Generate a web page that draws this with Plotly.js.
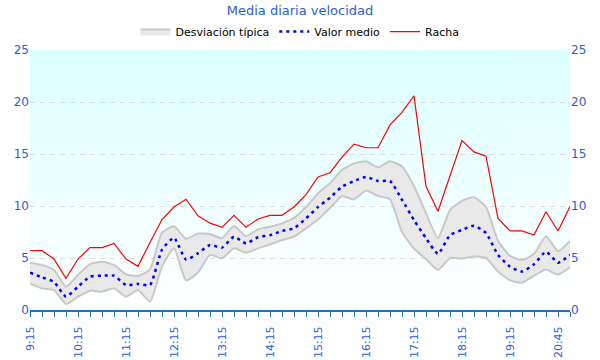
<!DOCTYPE html>
<html>
<head>
<meta charset="utf-8">
<script src="https://cdn.plot.ly/plotly-3.0.1.min.js"></script>
<style>html,body{margin:0;padding:0;background:#fff;}#chart{width:600px;height:360px;}</style>
</head>
<body>
<div id="chart"></div>
<script>
const times = ["9:15","9:30","9:45","10:00","10:15","10:30","10:45","11:00","11:15","11:30","11:45","12:00",
  "12:15","12:30","12:45","13:00","13:15","13:30","13:45","14:00","14:15","14:30","14:45","15:00",
  "15:15","15:30","15:45","16:00","16:15","16:30","16:45","17:00","17:15","17:30","17:45","18:00",
  "18:15","18:30","18:45","19:00","19:15","19:30","20:00","20:30","20:45","21:00"];
const shownLabels = ["9:15","10:15","11:15","12:15","13:15","14:15","15:15","16:15","17:15","18:15","19:15","20:45"];
const racha = [5.7,5.7,4.9,3.05,4.9,6.0,6.0,6.4,4.9,4.2,
  6.5,8.7,9.9,10.65,9.05,8.35,7.95,9.1,7.95,8.75,
  9.1,9.1,9.9,11.1,12.8,13.2,14.7,15.95,15.6,15.6,
  17.8,19.0,20.6,11.9,9.5,12.9,16.3,15.2,14.8,8.8,
  7.6,7.6,7.2,9.45,7.6,9.95];
const media = [3.59,3.14,2.7,1.28,2.24,3.2,3.3,3.3,2.4,2.5,
  2.4,5.8,6.95,4.85,5.45,6.25,6.0,7.05,6.4,7.0,
  7.2,7.6,7.85,8.8,9.9,10.8,11.86,12.4,12.8,12.4,
  12.4,10.6,8.65,6.9,5.4,7.2,7.7,8.1,7.4,5.3,
  4.17,3.7,4.4,5.6,4.55,5.3];
const desvSup = [4.55,4.33,3.85,2.24,3.37,4.42,4.65,4.33,3.43,3.27,
  3.9,7.43,8.05,6.85,7.35,7.3,6.9,8.08,7.1,7.75,
  8.0,8.33,8.85,9.9,11.2,12.2,13.46,14.1,14.3,13.7,
  14.3,13.8,11.9,9.3,6.9,9.6,10.5,10.85,9.9,6.65,
  5.2,4.8,5.4,7.1,5.65,6.65];
const desvInf = [2.56,2.08,1.92,0.58,1.28,1.86,1.76,2.08,1.28,1.92,
  0.8,4.2,5.93,2.85,3.6,5.3,4.97,5.93,5.5,5.93,
  6.3,6.73,7.05,7.85,8.7,9.8,10.96,10.64,11.5,10.96,
  10.65,7.5,5.9,4.9,3.85,5.0,4.95,5.15,5.0,3.7,
  2.85,2.63,3.3,3.9,3.4,4.1];

const xIdx = times.map((t, i) => i);
const tickText = times.map((t) => shownLabels.includes(t) ? t : "");

// vertical gradient for the plot background
const cv = document.createElement('canvas');
cv.width = 4; cv.height = 260;
const ctx = cv.getContext('2d');
const g = ctx.createLinearGradient(0, 0, 0, 260);
g.addColorStop(0, '#dbffff');
g.addColorStop(1, '#ffffff');
ctx.fillStyle = g; ctx.fillRect(0, 0, 4, 260);
const bgURL = cv.toDataURL('image/png');

const blueTxt = '#1f5fd6';
const font = 'DejaVu Sans, Verdana, sans-serif';

const traces = [
  {x: xIdx, y: desvInf, type: 'scatter', mode: 'lines', showlegend: false, hoverinfo: 'skip',
   line: {color: '#c8c8c8', width: 2, shape: 'spline', smoothing: 0.5}},
  {x: xIdx, y: desvSup, type: 'scatter', mode: 'lines', name: 'Desviación típica', fill: 'tonexty',
   fillcolor: '#e9e9e9', line: {color: '#c8c8c8', width: 2, shape: 'spline', smoothing: 0.5}},
  {x: xIdx, y: media, type: 'scatter', mode: 'lines', name: 'Valor medio',
   line: {color: '#0000ff', width: 2.5, dash: '3px,4px', shape: 'spline', smoothing: 0.5}},
  {x: xIdx, y: racha, type: 'scatter', mode: 'lines', name: 'Racha',
   line: {color: '#ff0000', width: 1.2}},
  {x: xIdx, y: racha, yaxis: 'y2', type: 'scatter', mode: 'lines', showlegend: false, hoverinfo: 'skip',
   line: {color: 'rgba(0,0,0,0)', width: 0}}
];

const layout = {
  width: 600, height: 360,
  margin: {l: 30, r: 30, t: 50, b: 50},
  paper_bgcolor: '#ffffff',
  plot_bgcolor: 'rgba(0,0,0,0)',
  font: {family: font, size: 12, color: '#000'},
  title: {text: 'Media diaria velocidad', x: 0.5, xanchor: 'center', y: 0.985, yanchor: 'top',
          font: {family: font, size: 13, color: blueTxt}},
  showlegend: true,
  legend: {orientation: 'h', x: 0.5, xanchor: 'center', y: 1.015, yanchor: 'bottom',
           itemwidth: 30, font: {family: font, size: 11, color: '#000'}, traceorder: 'normal'},
  images: [{source: bgURL, xref: 'paper', yref: 'paper', x: 0, y: 1, sizex: 1, sizey: 1,
            sizing: 'stretch', layer: 'below', xanchor: 'left', yanchor: 'top'}],
  xaxis: {range: [0, 45], tickmode: 'array', tickvals: xIdx, ticktext: tickText,
          tickangle: -90, ticks: 'outside', ticklen: 5, tickcolor: '#1f6fd0', tickwidth: 1,
          ticklabelstandoff: 5,
          showline: true, linecolor: '#1f6fd0', linewidth: 2, showgrid: false, zeroline: false,
          tickfont: {family: font, size: 11, color: blueTxt}, fixedrange: true},
  yaxis: {range: [0, 25], dtick: 5, tick0: 0, showgrid: true, gridcolor: '#dddddd', griddash: '5px,5px',
          gridwidth: 1, zeroline: false, showline: false, ticks: '',
          tickfont: {family: font, size: 12, color: blueTxt}, fixedrange: true},
  yaxis2: {range: [0, 25], dtick: 5, tick0: 0, overlaying: 'y', side: 'right', showgrid: false,
           zeroline: false, showline: false, ticks: '',
           tickfont: {family: font, size: 12, color: blueTxt}, fixedrange: true}
};

Plotly.newPlot('chart', traces, layout, {displayModeBar: false, staticPlot: true});
</script>
</body>
</html>
